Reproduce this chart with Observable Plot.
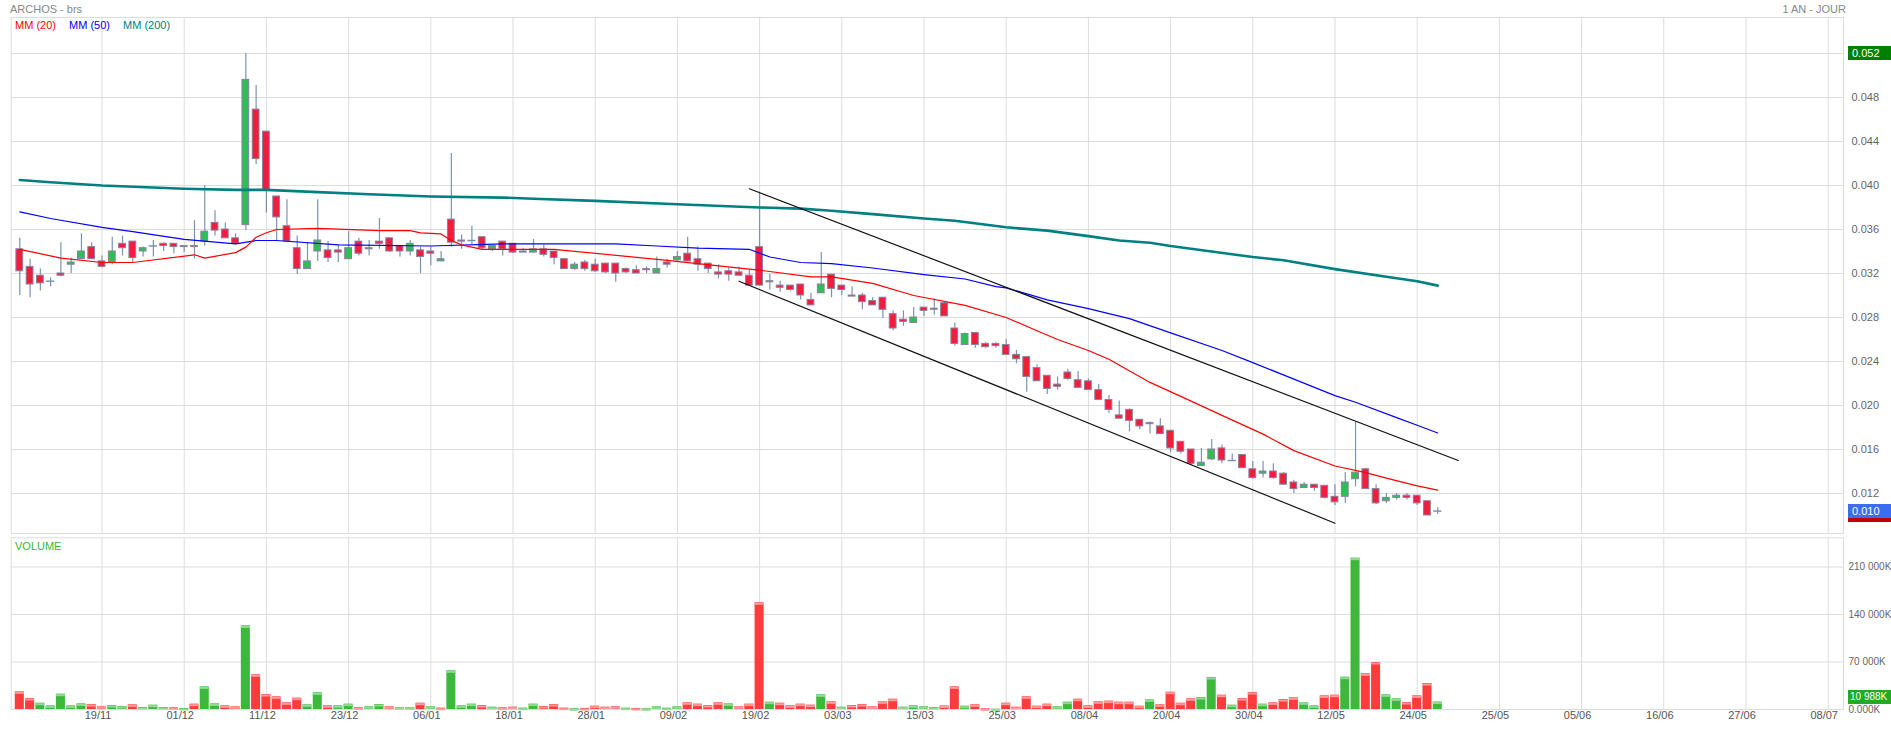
<!DOCTYPE html>
<html><head><meta charset="utf-8">
<script src="https://cdn.jsdelivr.net/npm/d3@7"></script>
<script src="https://cdn.jsdelivr.net/npm/@observablehq/plot@0.6"></script>
<style>
body{margin:0;background:#fff;font-family:"Liberation Sans",Arial,sans-serif;}
#wrap{position:relative;width:1891px;height:729px;overflow:hidden;background:#fff;}
#wrap svg{position:absolute;left:0;}
.t{position:absolute;font-size:11px;white-space:nowrap;line-height:14px;z-index:5;}
.box{position:absolute;left:1848px;width:43px;height:14px;line-height:14px;font-size:11px;color:#fff;padding-left:4px;box-sizing:border-box;z-index:6;white-space:nowrap;overflow:hidden;}
</style></head><body><div id="wrap"></div>
<script>
// ---- candle data (bar index 0 = 09/11, last = 26/05) ----
const opens=[0.0342,0.0326,0.0318,0.0313,0.0320,0.0328,0.0333,0.0344,0.0331,0.0330,
0.0347,0.0349,0.0340,0.0345,0.0347,0.0347,0.0344,0.0345,0.0349,0.0366,
0.0360,0.0352,0.0364,0.0469,0.0449,0.0390,0.0363,0.0343,0.0324,0.0340,
0.0341,0.0341,0.0333,0.0349,0.0342,0.0349,0.0352,0.0345,0.0340,0.0341,
0.0340,0.0331,0.0369,0.0350,0.0350,0.0353,0.0342,0.0349,0.0347,0.0339,
0.0339,0.0342,0.0340,0.0333,0.0324,0.0330,0.0328,0.0329,0.0329,0.0324,
0.0323,0.0324,0.0320,0.0330,0.0332,0.0338,0.0333,0.0329,0.0321,0.0322,
0.0321,0.0318,0.0344,0.0312,0.0309,0.0309,0.0310,0.0296,0.0302,0.0319,
0.0309,0.0300,0.0300,0.0295,0.0298,0.0283,0.0278,0.0275,0.0289,0.0287,
0.0293,0.0270,0.0255,0.0266,0.0256,0.0256,0.0255,0.0246,0.0244,0.0234,
0.0227,0.0219,0.0230,0.0223,0.0222,0.0214,0.0205,0.0191,0.0196,0.0187,
0.0183,0.0181,0.0177,0.0167,0.0160,0.0145,0.0151,0.0161,0.0150,0.0155,
0.0142,0.0138,0.0140,0.0138,0.0130,0.0125,0.0128,0.0127,0.0117,0.0117,
0.0133,0.0142,0.0124,0.0113,0.0116,0.0118,0.0118,0.0113,0.0104];
const highs=[0.0352,0.0333,0.0324,0.0316,0.0348,0.0334,0.0356,0.0348,0.0336,0.0353,
0.0354,0.0349,0.0344,0.0350,0.0348,0.0347,0.0345,0.0368,0.0400,0.0377,
0.0366,0.0356,0.0520,0.0491,0.0449,0.0390,0.0387,0.0354,0.0348,0.0387,
0.0349,0.0346,0.0358,0.0352,0.0350,0.0370,0.0352,0.0345,0.0350,0.0344,
0.0344,0.0340,0.0429,0.0355,0.0363,0.0353,0.0345,0.0349,0.0347,0.0343,
0.0351,0.0346,0.0340,0.0333,0.0330,0.0332,0.0333,0.0329,0.0329,0.0325,
0.0327,0.0326,0.0335,0.0333,0.0340,0.0353,0.0344,0.0329,0.0328,0.0325,
0.0326,0.0323,0.0394,0.0319,0.0313,0.0309,0.0310,0.0302,0.0339,0.0319,
0.0309,0.0308,0.0302,0.0298,0.0298,0.0286,0.0286,0.0289,0.0289,0.0297,
0.0294,0.0275,0.0266,0.0266,0.0257,0.0257,0.0260,0.0250,0.0244,0.0237,
0.0227,0.0226,0.0233,0.0231,0.0224,0.0219,0.0209,0.0204,0.0197,0.0187,
0.0185,0.0188,0.0177,0.0167,0.0160,0.0161,0.0169,0.0164,0.0156,0.0155,
0.0149,0.0149,0.0147,0.0139,0.0132,0.0130,0.0128,0.0127,0.0128,0.0139,
0.0185,0.0143,0.0128,0.0120,0.0120,0.0120,0.0118,0.0113,0.0107];
const lows=[0.0300,0.0298,0.0304,0.0308,0.0317,0.0320,0.0333,0.0333,0.0325,0.0328,
0.0336,0.0330,0.0335,0.0335,0.0340,0.0338,0.0339,0.0333,0.0345,0.0354,
0.0352,0.0346,0.0359,0.0419,0.0375,0.0350,0.0349,0.0319,0.0324,0.0331,
0.0330,0.0330,0.0333,0.0336,0.0336,0.0342,0.0339,0.0335,0.0336,0.0320,
0.0327,0.0331,0.0344,0.0342,0.0346,0.0341,0.0340,0.0336,0.0338,0.0339,
0.0339,0.0335,0.0328,0.0324,0.0323,0.0322,0.0321,0.0320,0.0312,0.0320,
0.0320,0.0320,0.0320,0.0325,0.0330,0.0331,0.0322,0.0320,0.0315,0.0313,
0.0318,0.0309,0.0309,0.0305,0.0303,0.0304,0.0296,0.0291,0.0302,0.0298,
0.0300,0.0299,0.0287,0.0291,0.0279,0.0268,0.0272,0.0275,0.0281,0.0282,
0.0281,0.0254,0.0255,0.0252,0.0252,0.0252,0.0246,0.0238,0.0212,0.0222,
0.0210,0.0214,0.0223,0.0216,0.0214,0.0205,0.0193,0.0188,0.0176,0.0178,
0.0174,0.0174,0.0157,0.0156,0.0146,0.0145,0.0150,0.0147,0.0150,0.0143,
0.0133,0.0134,0.0133,0.0128,0.0120,0.0125,0.0122,0.0115,0.0109,0.0111,
0.0126,0.0124,0.0110,0.0111,0.0114,0.0114,0.0109,0.0100,0.0101];
const closes=[0.0322,0.0310,0.0311,0.0313,0.0318,0.0330,0.0340,0.0333,0.0326,0.0340,
0.0343,0.0334,0.0343,0.0345,0.0345,0.0344,0.0345,0.0344,0.0358,0.0359,
0.0352,0.0347,0.0496,0.0424,0.0395,0.0371,0.0349,0.0324,0.0331,0.0350,
0.0334,0.0339,0.0343,0.0338,0.0343,0.0347,0.0340,0.0340,0.0347,0.0335,
0.0338,0.0333,0.0348,0.0349,0.0350,0.0343,0.0345,0.0342,0.0339,0.0340,
0.0342,0.0337,0.0334,0.0324,0.0328,0.0324,0.0322,0.0321,0.0320,0.0321,
0.0320,0.0323,0.0324,0.0328,0.0335,0.0331,0.0328,0.0324,0.0319,0.0319,
0.0318,0.0309,0.0309,0.0313,0.0307,0.0305,0.0300,0.0291,0.0310,0.0306,
0.0305,0.0299,0.0294,0.0291,0.0287,0.0270,0.0276,0.0280,0.0286,0.0288,
0.0281,0.0256,0.0265,0.0255,0.0253,0.0254,0.0246,0.0242,0.0226,0.0222,
0.0215,0.0217,0.0224,0.0216,0.0214,0.0205,0.0196,0.0188,0.0186,0.0181,
0.0184,0.0174,0.0161,0.0158,0.0147,0.0148,0.0160,0.0150,0.0150,0.0143,
0.0134,0.0140,0.0134,0.0128,0.0124,0.0128,0.0125,0.0116,0.0112,0.0130,
0.0139,0.0124,0.0111,0.0116,0.0118,0.0116,0.0111,0.0100,0.0104];
// volume in K
const volumes=[26000,16200,9300,5400,22600,5400,8300,7400,3900,5900,
4400,6900,2900,6400,2900,2500,1500,7900,33400,8300,
5400,3900,123300,51100,22100,18700,9800,16700,6900,24600,
5400,5400,7900,2500,3900,7400,3900,2500,2500,9300,
3900,2000,57000,5400,7900,5900,3400,2500,3400,2000,
7900,4400,7400,2000,1000,1500,4900,3400,3900,2000,
1500,1000,3900,2000,3900,9800,7900,5900,9800,8300,
3900,7900,157200,10800,9300,5400,7900,6400,21600,11300,
3400,5900,7400,3900,11300,15200,3400,5400,3900,2900,
5200,33400,4900,6900,1000,500,9300,3400,18700,4900,
7900,3900,10800,15200,5400,11300,12300,10800,10800,4900,
14200,6900,25500,9300,15700,17700,47200,21100,6400,16200,
25100,7900,9800,14700,17200,9800,5400,20100,21100,47600,
223000,52600,69300,21600,15700,10300,20100,38300,10988];
// 1 = up day (green volume), 0 = down day (red volume)
const volUp=[0,0,1,1,1,1,1,0,0,1, 1,0,1,1,1,0,1,0,1,1, 0,0,1,0,0,0,0,0,1,1,
0,1,1,0,1,1,0,1,1,0, 1,0,1,1,1,0,1,0,0,1, 1,0,0,0,1,0,0,0,0,1,
0,1,1,1,1,0,0,0,0,1, 0,0,0,1,0,0,0,0,1,0, 1,0,0,0,0,0,1,1,1,1,
0,0,1,0,0,1,0,0,0,0, 0,1,1,0,0,0,0,0,0,0, 1,0,0,0,0,1,1,0,1,0,
0,1,0,0,0,1,1,0,0,1, 1,0,0,1,1,0,0,0,1];
// moving averages: [bar index, value]
const mm20=[[0,0.0342],[4,0.0334],[8,0.0330],[11,0.0330],[17,0.0337],[18,0.0334],[21,0.0339],[22,0.0344],[23,0.0353],[24,0.0357],[25,0.0360],[29,0.0361],[35,0.0359],[38,0.0359],[39,0.0357],[41,0.0356],[42,0.0350],[43,0.0346],[45,0.0342],[52,0.0342],[63,0.0332],[71,0.0324],[72,0.0323],[77,0.0317],[79,0.0317],[83,0.0311],[87,0.0300],[92,0.0291],[96,0.0280],[99,0.0268],[101,0.0260],[104,0.0250],[106,0.0242],[110,0.0221],[114,0.0204],[117,0.0191],[121,0.0174],[124,0.0159],[128,0.0145],[131,0.0139],[133,0.0134],[136,0.0127],[138,0.0123]];
const mm50=[[0,0.0376],[3,0.0370],[8,0.0362],[11,0.0358],[16,0.0351],[21,0.0347],[23,0.0350],[25,0.0350],[31,0.0346],[40,0.0345],[47,0.0347],[52,0.0347],[58,0.0347],[62,0.0345],[66,0.0343],[71,0.0342],[73,0.0335],[76,0.0330],[79,0.0329],[83,0.0325],[88,0.0319],[92,0.0315],[95,0.0308],[96,0.0307],[100,0.0296],[104,0.0288],[108,0.0279],[112,0.0266],[117,0.0250],[120,0.0239],[124,0.0224],[128,0.0209],[130,0.0203],[134,0.0189],[136,0.0182],[138,0.0175]];
const mm200=[[0,0.0405],[3,0.0403],[8,0.0400],[16,0.0397],[21,0.0396],[24,0.0396],[29,0.0394],[34,0.0392],[40,0.0390],[47,0.0389],[50,0.0388],[56,0.0386],[64,0.0383],[72,0.0380],[76,0.0379],[79,0.0377],[83,0.0374],[88,0.0370],[91,0.0368],[96,0.0362],[100,0.0359],[104,0.0354],[107,0.0350],[110,0.0348],[112,0.0345],[116,0.0340],[120,0.0335],[123,0.0332],[128,0.0324],[133,0.0317],[136,0.0313],[138,0.0309]];
const trendUpper=[[71,0.0397],[140,0.0150]];
const trendLower=[[70,0.0313],[128,0.0093]];
const priceTicks=[0.012,0.016,0.020,0.024,0.028,0.032,0.036,0.040,0.044,0.048,0.052];
const volTicks=[0,70000,140000,210000];
const xLabels=["19/11","01/12","11/12","23/12","06/01","18/01","28/01","09/02","19/02","03/03","15/03","25/03","08/04","20/04","30/04","12/05","24/05","25/05","05/06","16/06","27/06","08/07"];
const xLabelBars=xLabels.map((_,k)=>8+8*k);
const maxHigh=0.052, minLow=0.0100, lastPrice=0.0104, lastVolume=10988;

// ---- build ----
const candles=opens.map((o,i)=>({i,o,h:highs[i],l:lows[i],c:closes[i]}));
const vols=volumes.map((v,i)=>({i,v,up:volUp[i]===1}));
const XD=[-0.837,177.49];
const font={fontFamily:"'Liberation Sans',Arial,sans-serif",fontSize:"11px",background:"transparent",overflow:"visible"};
const grid="#dddddd";
const wick="#7b93b3";

const price=Plot.plot({
  width:1891,height:536,marginTop:17,marginBottom:3,marginLeft:10.7,marginRight:48,
  x:{type:"linear",domain:XD,axis:null,label:null},
  y:{domain:[0.008364,0.055273],axis:null,label:null},
  style:font,
  marks:[
    Plot.gridY(priceTicks,{stroke:grid,strokeOpacity:1}),
    Plot.gridX(xLabelBars,{stroke:grid,strokeOpacity:1}),
    Plot.frame({stroke:grid}),
    Plot.axisY(priceTicks,{anchor:"right",tickSize:0,tickPadding:8,label:null,tickFormat:d3.format(".3f"),fill:"#666"}),
    Plot.ruleX(candles,{x:"i",y1:"l",y2:"h",stroke:wick,strokeWidth:1.2}),
    Plot.rect(candles.filter(d=>d.o!==d.c),{x1:d=>d.i-0.33,x2:d=>d.i+0.33,y1:"o",y2:"c",
      fill:d=>d.c>d.o?"#2dbf55":"#f01e3c",stroke:"#8b7fa3",strokeWidth:1}),
    Plot.ruleY(candles.filter(d=>d.o===d.c),{y:"o",x1:d=>d.i-0.4,x2:d=>d.i+0.4,stroke:wick,strokeWidth:1.5}),
    Plot.line(mm200,{x:d=>d[0],y:d=>d[1],stroke:"#008080",strokeWidth:2.6}),
    Plot.line(mm50,{x:d=>d[0],y:d=>d[1],stroke:"#0000ff",strokeWidth:1.2}),
    Plot.line(mm20,{x:d=>d[0],y:d=>d[1],stroke:"#ff0000",strokeWidth:1.2}),
    Plot.line(trendUpper,{x:d=>d[0],y:d=>d[1],stroke:"#111",strokeWidth:1.2}),
    Plot.line(trendLower,{x:d=>d[0],y:d=>d[1],stroke:"#111",strokeWidth:1.2})
  ]
});
price.style.top="0px";

const vol=Plot.plot({
  width:1891,height:193,marginTop:1.3,marginBottom:20,marginLeft:10.7,marginRight:48,
  x:{type:"linear",domain:XD,axis:null,label:null},
  y:{domain:[0,253000],axis:null,label:null},
  style:font,
  marks:[
    Plot.gridY(volTicks,{stroke:grid,strokeOpacity:1}),
    Plot.gridX(xLabelBars,{stroke:grid,strokeOpacity:1}),
    Plot.frame({stroke:grid}),
    Plot.rect(vols,{x1:d=>d.i-0.44,x2:d=>d.i+0.44,y1:0,y2:"v",fill:d=>d.up?"#3cb93c":"#ff3b3b"}),
    Plot.ruleY(vols,{y:"v",x1:d=>d.i-0.44,x2:d=>d.i+0.44,stroke:d=>d.up?"#95d995":"#ff9c9c",strokeWidth:2,dy:1}),
    Plot.axisY(volTicks,{anchor:"right",tickSize:0,tickPadding:5,label:null,fill:"#666",fontSize:10,
      tickFormat:d=>d===0?"0.000K":d3.format(",")(d).replace(/,/g," ")+"K"}),
    Plot.axisX(xLabelBars,{anchor:"bottom",tickSize:0,tickPadding:2,label:null,fill:"#555",dx:-4,
      tickFormat:d=>xLabels[(d-8)/8]})
  ]
});
vol.style.top="536px";

const wrap=document.getElementById("wrap");
wrap.appendChild(price);
wrap.appendChild(vol);

function addText(txt,css){const d=document.createElement("div");d.className="t";d.textContent=txt;Object.assign(d.style,css);wrap.appendChild(d);return d;}
addText("ARCHOS - brs",{left:"10px",top:"2px",color:"#888"});
addText("1 AN - JOUR",{right:"45px",top:"2px",color:"#888"});
addText("MM (20)",{left:"15px",top:"18px",color:"#ff0000"});
addText("MM (50)",{left:"69px",top:"18px",color:"#0000ff"});
addText("MM (200)",{left:"123px",top:"18px",color:"#008080"});
addText("VOLUME",{left:"15px",top:"539px",color:"#33bb33"});

function addBox(txt,top,bg,fs){const d=document.createElement("div");d.className="box";d.textContent=txt;d.style.top=top+"px";d.style.background=bg;if(fs){d.style.fontSize=fs+"px";d.style.paddingLeft="2px";}wrap.appendChild(d);return d;}
const py=price.scale("y"), vy=vol.scale("y");
addBox("",py.apply(minLow)-7,"#c00000");
addBox("0.010",py.apply(lastPrice)-7,"#3a6df0");
addBox("0.052",py.apply(maxHigh)-7,"#008000");
addBox("10 988K",536+vy.apply(lastVolume)-12,"#22aa22",10);
</script></body></html>
